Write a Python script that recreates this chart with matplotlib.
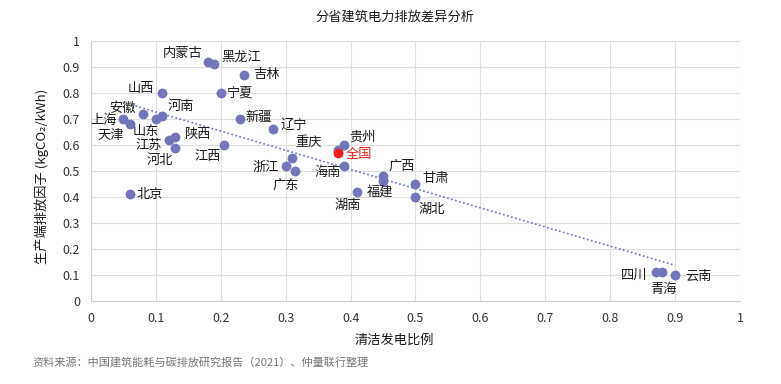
import matplotlib
matplotlib.use("Agg")
import matplotlib.pyplot as plt
import numpy as np

plt.rcParams['font.family'] = ['Noto Sans CJK SC', 'DejaVu Sans']

# 各省数据：清洁发电比例 / 生产端排放因子
provinces = ["内蒙古", "黑龙江", "吉林", "山西", "宁夏", "安徽", "上海", "天津",
             "山东", "河南", "江苏", "陕西", "河北", "江西", "新疆", "辽宁",
             "北京", "重庆", "浙江", "广东", "贵州", "海南", "广西", "福建",
             "湖南", "甘肃", "湖北", "四川", "青海", "云南"]
clean_ratio = [0.18, 0.19, 0.235, 0.11, 0.20, 0.08, 0.05, 0.06,
               0.10, 0.11, 0.12, 0.13, 0.13, 0.205, 0.23, 0.28,
               0.06, 0.31, 0.30, 0.315, 0.39, 0.39, 0.45, 0.45,
               0.41, 0.50, 0.50, 0.87, 0.88, 0.90]
emission = [0.92, 0.91, 0.87, 0.80, 0.80, 0.72, 0.70, 0.68,
            0.70, 0.71, 0.62, 0.63, 0.59, 0.60, 0.70, 0.66,
            0.41, 0.55, 0.52, 0.50, 0.60, 0.52, 0.48, 0.46,
            0.42, 0.45, 0.40, 0.11, 0.11, 0.10]

# 全国
nation_x = 0.38
nation_y = 0.57
nation_blue_y = 0.58

# 标签偏移 (points)
offsets = {
    "内蒙古": (-4, 6, "right"), "黑龙江": (5, 5, "left"), "吉林": (7, 0, "left"),
    "山西": (-6, 3, "right"), "宁夏": (4, 0, "left"), "安徽": (-5, 4, "right"),
    "上海": (-5, -1, "right"), "天津": (-4, -8, "right"), "山东": (-7, -9, "center"),
    "河南": (4, 7, "left"), "江苏": (-5, -4, "right"), "陕西": (6, 2, "left"),
    "河北": (-11, -9, "center"), "江西": (-12, -8, "center"), "新疆": (4, 1, "left"),
    "辽宁": (6, 3, "left"), "北京": (5, 0, "left"), "重庆": (12, 11, "center"),
    "浙江": (-5, -1, "right"), "广东": (-7, -10, "center"), "贵州": (4, 6, "left"),
    "海南": (-12, -5, "center"), "广西": (4, 7, "left"), "福建": (-2, -8, "center"),
    "湖南": (-7, -10, "center"), "甘肃": (5, 4, "left"), "湖北": (12, -9, "center"),
    "四川": (-6, -2, "right"), "青海": (1, -12, "center"), "云南": (7, -1, "left"),
}

fig = plt.figure(figsize=(7.81, 3.84), dpi=100)
ax = fig.add_axes([0.1165, 0.216, 0.831, 0.677])

blue = "#7176b9"
ax.scatter(clean_ratio, emission, s=50, color=blue, zorder=3, linewidths=0)
ax.scatter([nation_x], [nation_blue_y], s=50, color=blue, zorder=3, linewidths=0)
ax.scatter([nation_x], [nation_y], s=50, color="#f02020", zorder=4, linewidths=0)

# 线性趋势线
xs = np.array(clean_ratio + [nation_x])
ys = np.array(emission + [nation_blue_y])
k, b = np.polyfit(xs, ys, 1)
tx = np.array([xs.min(), xs.max()])
ax.plot(tx, k * tx + b, linestyle=(0, (1, 1.5)), color="#6a70c2", lw=1.2, zorder=2)

for name, x, y in zip(provinces, clean_ratio, emission):
    dx, dy, ha = offsets[name]
    ax.annotate(name, (x, y), xytext=(dx, dy), textcoords="offset points",
                ha=ha, va="center", fontsize=9.5, color="#1a1a1a")
ax.annotate("全国", (nation_x, nation_y), xytext=(6, -1), textcoords="offset points",
            ha="left", va="center", fontsize=9.5, color="#f02020")

ax.set_xlim(0, 1)
ax.set_ylim(0, 1)
ax.set_xticks(np.arange(0, 1.01, 0.1))
ax.set_yticks(np.arange(0, 1.01, 0.1))
ax.set_xticklabels(["0", "0.1", "0.2", "0.3", "0.4", "0.5", "0.6", "0.7", "0.8", "0.9", "1"])
ax.set_yticklabels(["0", "0.1", "0.2", "0.3", "0.4", "0.5", "0.6", "0.7", "0.8", "0.9", "1"])
ax.tick_params(length=0, labelsize=9, labelcolor="#333333", pad=8)
ax.grid(True, color="#dedede", lw=0.8)
ax.set_axisbelow(True)
for s in ["top", "right"]:
    ax.spines[s].set_visible(False)
for s in ["left", "bottom"]:
    ax.spines[s].set_color("#cccccc")

fig.text(0.505, 0.955, "分省建筑电力排放差异分析", ha="center", va="center", fontsize=9.5, color="#1a1a1a")
fig.text(0.505, 0.115, "清洁发电比例", ha="center", va="center", fontsize=9.5, color="#1a1a1a")
fig.text(0.054, 0.54, "生产端排放因子 (kgCO₂/kWh)", rotation=90, ha="center", va="center",
         fontsize=9.5, color="#1a1a1a")
fig.text(0.041, 0.057, "资料来源：中国建筑能耗与碳排放研究报告（2021）、仲量联行整理",
         ha="left", va="center", fontsize=8, color="#777777")

fig.savefig("out.png", dpi=100)
